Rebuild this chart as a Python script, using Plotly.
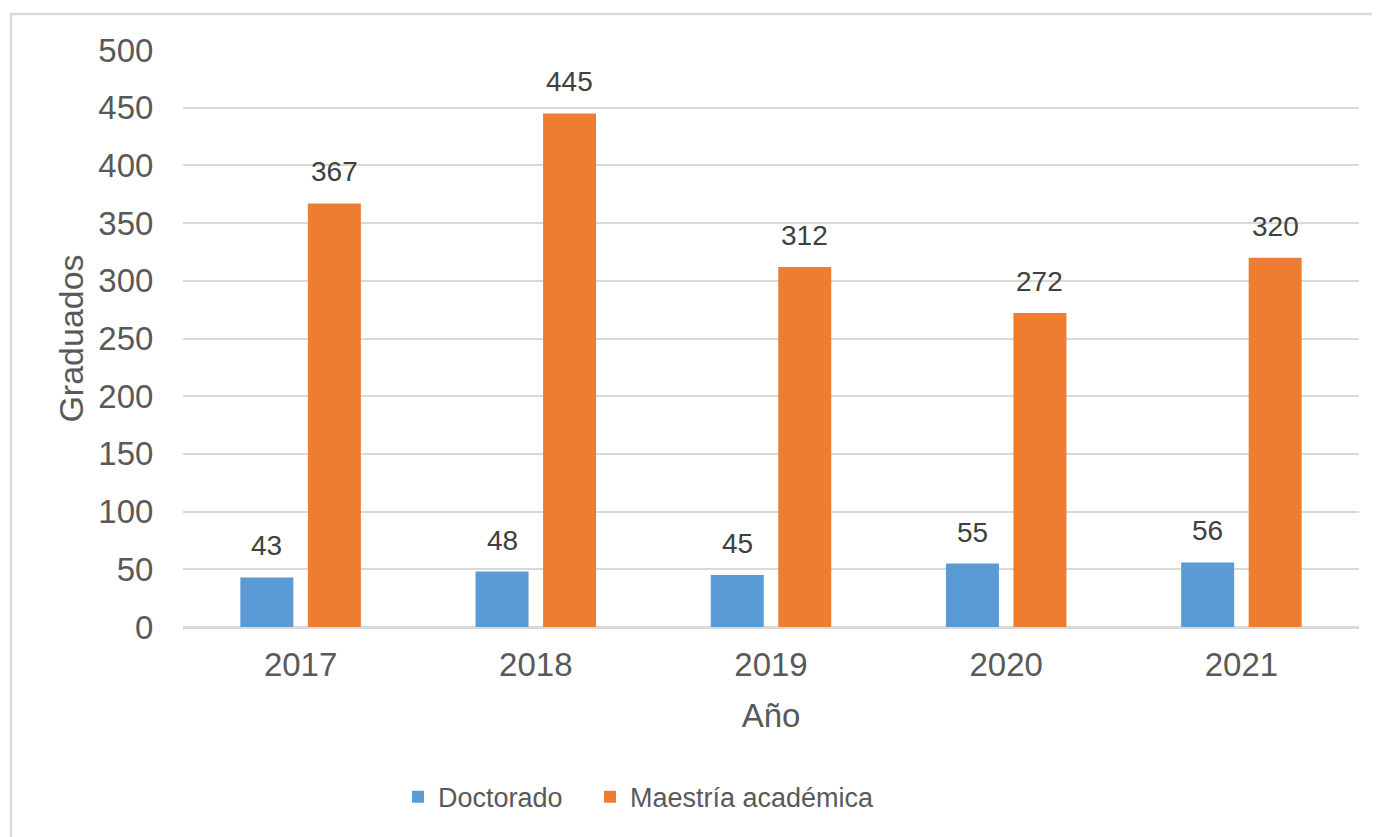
import plotly.graph_objects as go

years = ["2017", "2018", "2019", "2020", "2021"]
doctorado = [43, 48, 45, 55, 56]
maestria = [367, 445, 312, 272, 320]

BLUE = "#5B9BD5"
ORANGE = "#ED7D31"
TXT = "#595959"
LBL = "#404040"
GRID = "#D9D9D9"
FONT = "Liberation Sans, Arial, sans-serif"

fig = go.Figure()
fig.add_trace(go.Bar(name="Doctorado", x=years, y=doctorado, marker_color=BLUE,
                     marker_line_width=0, legend="legend", showlegend=True))
fig.add_trace(go.Bar(name="Maestría académica", x=years, y=maestria, marker_color=ORANGE,
                     marker_line_width=0, legend="legend2", showlegend=True))

W, H = 1380, 837
L, R, T, B = 175, 29, 42, 218
pw = W - L - R
ph = H - T - B
bargap = 0.426
slot = (pw / len(years)) * (1 - bargap) / 2

ann = []
for vals, sh in ((doctorado, -slot / 2), (maestria, slot / 2)):
    for i, v in enumerate(vals):
        ann.append(dict(x=i, y=v, xref="x", yref="y", text=str(v), showarrow=False,
                        xshift=sh, yshift=14, yanchor="bottom",
                        font=dict(size=28, color=LBL, family=FONT)))

leg_common = dict(orientation="h", xanchor="left", y=-0.295, yanchor="middle",
                  font=dict(size=27, color=TXT), bgcolor="rgba(0,0,0,0)")

fig.update_layout(
    width=W, height=H,
    showlegend=True,
    margin=dict(l=L, r=R, t=T, b=B, autoexpand=False),
    paper_bgcolor="white", plot_bgcolor="white",
    barmode="group", bargap=bargap, bargroupgap=0.215,
    font=dict(family=FONT, color=TXT, size=33),
    annotations=ann,
    legend=dict(x=(390 - L) / pw, **leg_common),
    legend2=dict(x=(582 - L) / pw, **leg_common),
    shapes=[dict(type="rect", xref="paper", yref="paper",
                 x0=(3 - L) / pw, x1=1.1, y0=-0.5, y1=(H - B - 6) / ph,
                 line=dict(color=GRID, width=2.5), fillcolor="rgba(0,0,0,0)", layer="below")],
)
fig.update_xaxes(type="category",
                 title=dict(text="Año", font=dict(size=33, color=TXT), standoff=22),
                 tickfont=dict(size=33, color=TXT), showgrid=False,
                 showline=True, linecolor=GRID, linewidth=2,
                 ticks="outside", ticklen=7, tickcolor="rgba(0,0,0,0)")
fig.update_yaxes(title=dict(text="Graduados", font=dict(size=34, color=TXT), standoff=4),
                 range=[0, 500], dtick=50, tickfont=dict(size=33, color=TXT),
                 showgrid=True, gridcolor=GRID, gridwidth=2,
                 zeroline=True, zerolinecolor=GRID, zerolinewidth=2,
                 ticks="outside", ticklen=22, tickcolor="rgba(0,0,0,0)")

fig.write_html("out.html")
